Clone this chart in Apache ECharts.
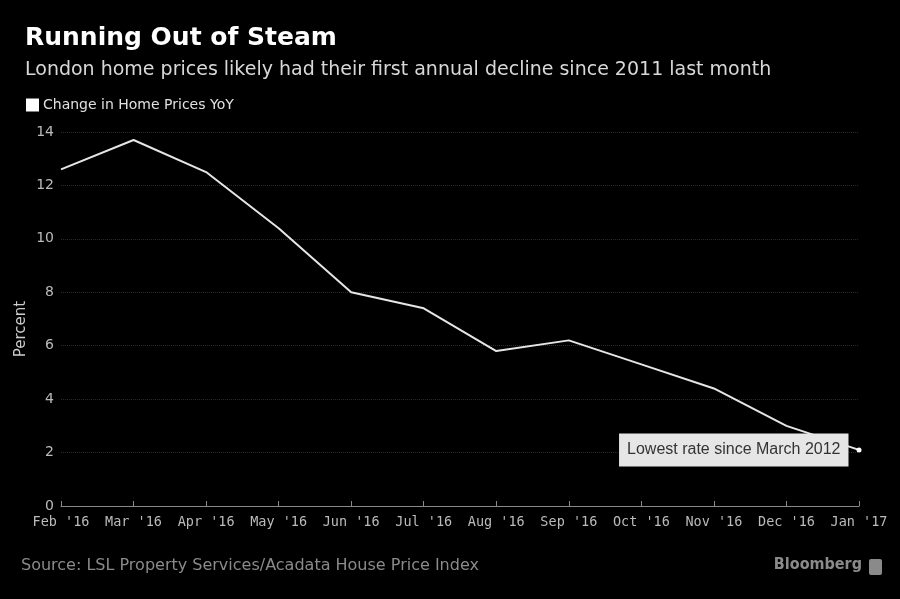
<!DOCTYPE html>
<html>
<head>
<meta charset="utf-8">
<script src="https://cdn.jsdelivr.net/npm/echarts@6/dist/echarts.min.js"></script>
<style>
html,body{margin:0;padding:0;background:#000;}
#c{width:900px;height:599px;}
</style>
</head>
<body>
<div id="c"></div>
<script>
const categories = ["Feb '16","Mar '16","Apr '16","May '16","Jun '16","Jul '16","Aug '16","Sep '16","Oct '16","Nov '16","Dec '16","Jan '17"];
const values = [12.6, 13.7, 12.5, 10.4, 8.0, 7.4, 5.8, 6.2, 5.3, 4.4, 3.0, 2.1];
const yTicks = [0, 2, 4, 6, 8, 10, 12, 14];
const seriesName = 'Change in Home Prices YoY';
const annotation = 'Lowest rate since March 2012';

const chart = echarts.init(document.getElementById('c'));
const sans = 'DejaVu Sans';
const data = values.map((v, i) => {
  if (i === values.length - 1) {
    return {
      value: v,
      symbol: 'circle',
      symbolSize: 5,
      label: {
        show: true,
        position: 'left',
        distance: 8,
        formatter: annotation,
        backgroundColor: '#e6e6e6',
        color: '#333',
        padding: [9, 8, 8, 8],
        fontSize: 16,
        fontFamily: 'Liberation Sans'
      }
    };
  }
  return v;
});

chart.setOption({
  backgroundColor: '#000',
  animation: false,
  title: [
    { text: 'Running Out of Steam', left: 20, top: 21,
      textStyle: { color: '#fff', fontSize: 25, fontWeight: 'bold', fontFamily: sans } },
    { text: 'London home prices likely had their first annual decline since 2011 last month', left: 20, top: 56,
      textStyle: { color: '#d8d8d8', fontSize: 19, fontWeight: 'normal', fontFamily: sans } }
  ],
  legend: {
    left: 21, top: 93, icon: 'rect', itemWidth: 13, itemHeight: 13, itemGap: 4,
    textStyle: { color: '#e0e0e0', fontSize: 14, fontFamily: sans, padding: [0,0,0,-1] },
    data: [{ name: seriesName, icon: 'rect', itemStyle: { color: '#fff' } }]
  },
  grid: { left: 61, right: 41, top: 132, bottom: 93 },
  xAxis: {
    type: 'category',
    data: categories,
    boundaryGap: false,
    axisLine: { lineStyle: { color: '#888' } },
    axisTick: { inside: true, length: 5, lineStyle: { color: '#888' } },
    axisLabel: { color: '#bbb', fontSize: 13.5, fontFamily: 'DejaVu Sans Mono', margin: 9, interval: 0 },
    splitLine: { show: false }
  },
  yAxis: {
    type: 'value',
    min: 0, max: 14, interval: 2,
    axisLine: { show: false },
    axisTick: { show: false },
    axisLabel: { color: '#bbb', fontSize: 14, fontFamily: sans, margin: 7,
      formatter: v => yTicks.includes(v) ? String(v) : '' },
    splitLine: { lineStyle: { color: '#2a2a2a', type: 'dotted', width: 1 } }
  },
  series: [{
    name: seriesName,
    type: 'line',
    data: data,
    symbol: 'none',
    lineStyle: { color: '#e6e6e6', width: 2 },
    itemStyle: { color: '#fff' }
  }],
  graphic: [
    { type: 'text', x: 21, y: 329, rotation: Math.PI / 2,
      style: { text: 'Percent', fill: '#ccc', fontSize: 15, fontFamily: sans, align: 'center', verticalAlign: 'middle' } },
    { type: 'text', left: 21, top: 558,
      style: { text: 'Source: LSL Property Services/Acadata House Price Index', fill: '#8a8a8a', fontSize: 16, fontFamily: sans } },
    { type: 'text', right: 38, top: 557,
      style: { text: 'Bloomberg', fill: '#8a8a8a', fontSize: 16, fontWeight: 'bold', fontFamily: 'DejaVu Sans Condensed' } },
    { type: 'rect', right: 18, top: 559, shape: { width: 13, height: 16, r: 2 },
      style: { fill: '#8a8a8a' } }
  ]
});
</script>
</body>
</html>
